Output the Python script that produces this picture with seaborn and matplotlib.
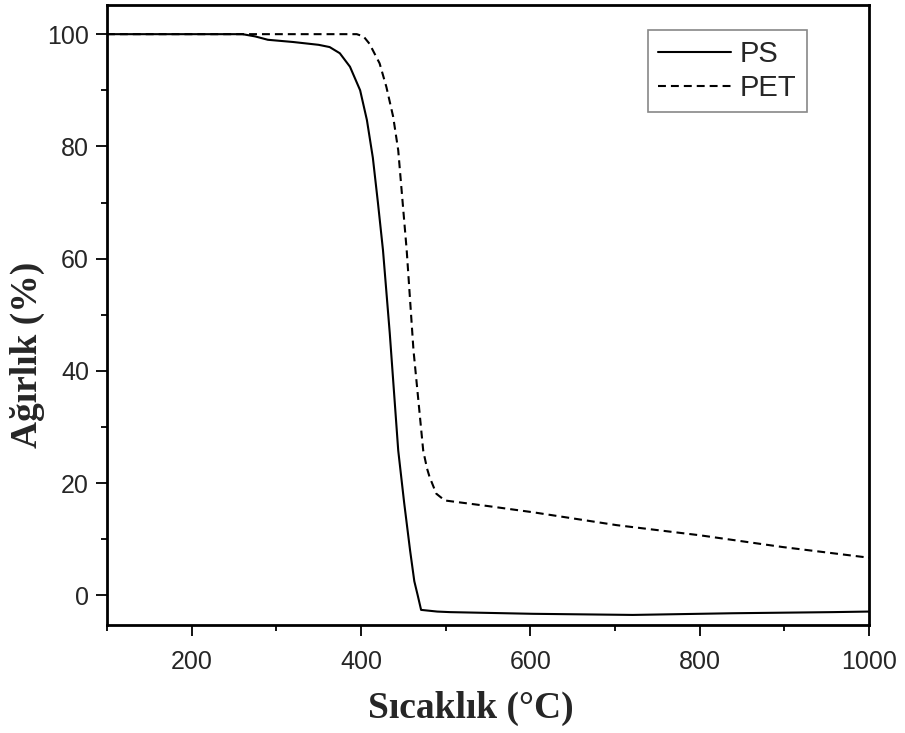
import matplotlib
matplotlib.use("Agg")
import matplotlib.pyplot as plt
import seaborn as sns
from matplotlib.ticker import MultipleLocator

# TGA verileri (grafikten okunan yaklaşık değerler)
ps_sicaklik = [100, 200, 260, 275, 290, 320, 350, 363, 375, 387, 399, 407, 414, 420, 426, 434,
               444, 451, 458, 463, 467, 471, 490, 505, 603, 721, 839, 957, 1000]
ps_agirlik = [100, 100, 100, 99.6, 99.0, 98.6, 98.1, 97.7, 96.6, 94.2, 90.0, 84.7, 78.0, 70.0, 61.5, 46.7,
              25.8, 16.5, 8.0, 2.5, 0.0, -2.6, -2.9, -3.0, -3.3, -3.5, -3.2, -3.0, -2.9]

pet_sicaklik = [100, 200, 300, 395, 403, 410, 422, 430, 438, 444, 454, 462, 468, 473.5, 478, 481,
                489, 499, 550, 603, 702, 800, 898, 1000]
pet_agirlik = [100, 100, 100, 100, 99.6, 98.3, 94.8, 90.6, 85.3, 79.3, 61.5, 43.7, 34.4, 25.8, 22.6, 21.1,
               18.1, 16.9, 15.9, 14.8, 12.5, 10.7, 8.6, 6.7]

sns.set_style("ticks")
plt.rcParams['font.family'] = ['Liberation Sans', 'DejaVu Sans']

fig = plt.figure(figsize=(9.05, 7.33), dpi=100)
ax = fig.add_axes([0.1182, 0.1473, 0.8420, 0.8459])

sns.lineplot(x=ps_sicaklik, y=ps_agirlik, ax=ax, color='black', linewidth=1.5, label='PS')
sns.lineplot(x=pet_sicaklik, y=pet_agirlik, ax=ax, color='black', linewidth=1.5,
             linestyle=(0, (3.8, 2.4)), label='PET')

ax.set_xlim(100, 1000)
ax.set_ylim(-5.3, 105.2)
ax.xaxis.set_major_locator(MultipleLocator(200))
ax.xaxis.set_minor_locator(MultipleLocator(100))
ax.yaxis.set_major_locator(MultipleLocator(20))
ax.yaxis.set_minor_locator(MultipleLocator(10))
ax.tick_params(which='major', direction='out', length=8, width=1.3, labelsize=18, color='black')
ax.tick_params(which='minor', direction='out', length=4.5, width=1.3, color='black')
ax.tick_params(axis='x', which='major', pad=10)
ax.tick_params(axis='y', which='major', pad=5)

for s in ax.spines.values():
    s.set_visible(True)
    s.set_color('black')
    s.set_linewidth(2)

ax.set_xlabel('Sıcaklık (°C)', fontsize=27, fontweight='bold', family=['Liberation Serif', 'DejaVu Serif'])
ax.set_ylabel('Ağırlık (%)', fontsize=27, fontweight='bold', family=['Liberation Serif', 'DejaVu Serif'])
ax.xaxis.set_label_coords(0.478, -0.106)
ax.yaxis.set_label_coords(-0.081, 0.435)

leg = ax.legend(loc='upper right', bbox_to_anchor=(0.9186, 0.9597), borderaxespad=0,
                fontsize=21, handlelength=2.5, labelspacing=0.2, borderpad=0.35,
                handletextpad=0.3, fancybox=False, framealpha=1)
leg.get_frame().set_edgecolor('#888888')
leg.get_frame().set_linewidth(1.2)

plt.savefig('out.png', dpi=100)
